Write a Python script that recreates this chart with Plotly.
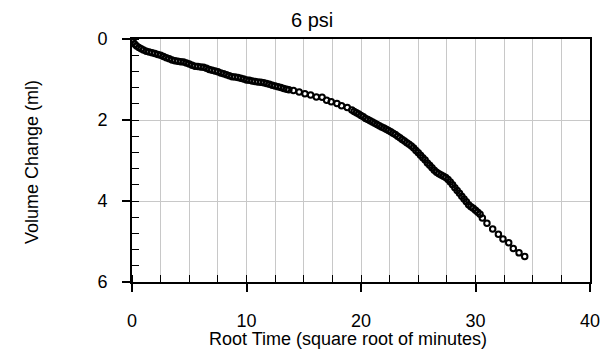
import plotly.graph_objects as go

# Root time (sqrt of minutes) and volume change (ml)
root_time = [
    0, 0.1, 0.25, 0.4, 0.6, 0.8, 1.0, 1.25, 1.5, 1.75, 2.0, 2.25, 2.5, 2.75,
    3.0, 3.25, 3.5, 3.75, 4.0, 4.25, 4.5, 4.75, 5.0, 5.25, 5.5, 5.75, 6.0,
    6.25, 6.5, 6.75, 7.0, 7.25, 7.5, 7.75, 8.0, 8.25, 8.5, 8.75, 9.0, 9.25,
    9.5, 9.75, 10.0, 10.25, 10.5, 10.75, 11.0, 11.25, 11.5, 11.75, 12.0,
    12.25, 12.5, 12.75, 13.0, 13.25, 13.5, 13.7,
    14.1, 14.6, 15.1, 15.6, 16.1, 16.6, 17.0, 17.4, 17.9, 18.3, 18.8, 19.2,
    19.4, 19.6, 19.8, 20.0, 20.2, 20.4, 20.6, 20.8, 21.0, 21.2, 21.4, 21.6,
    21.8, 22.0, 22.2, 22.4, 22.6, 22.8, 23.0, 23.2, 23.4, 23.6, 23.8, 24.0,
    24.2, 24.4, 24.6, 24.8, 25.0, 25.2, 25.4, 25.6, 25.8, 26.0, 26.2, 26.4,
    26.6, 26.8, 27.0, 27.2, 27.4, 27.6, 27.8, 28.0, 28.2, 28.4, 28.6, 28.8,
    29.0, 29.2, 29.4, 29.6, 29.8, 30.0, 30.2, 30.4, 30.6,
    31.0, 31.5, 32.0, 32.4, 32.9, 33.3, 33.8, 34.3,
]
volume_change = [
    0, 0.07, 0.13, 0.17, 0.21, 0.24, 0.27, 0.30, 0.32, 0.34, 0.36, 0.38, 0.40,
    0.43, 0.46, 0.49, 0.52, 0.54, 0.55, 0.56, 0.57, 0.59, 0.62, 0.65, 0.67,
    0.68, 0.69, 0.70, 0.72, 0.75, 0.77, 0.79, 0.81, 0.84, 0.86, 0.88, 0.91,
    0.93, 0.94, 0.95, 0.97, 0.99, 1.01, 1.02, 1.04, 1.05, 1.06, 1.07, 1.08,
    1.10, 1.12, 1.14, 1.16, 1.18, 1.20, 1.22, 1.24, 1.25,
    1.27, 1.31, 1.35, 1.38, 1.43, 1.44, 1.51, 1.55, 1.59, 1.65, 1.69, 1.75,
    1.79, 1.82, 1.85, 1.89, 1.92, 1.96, 1.99, 2.02, 2.05, 2.08, 2.11, 2.14,
    2.17, 2.20, 2.23, 2.26, 2.29, 2.33, 2.36, 2.40, 2.44, 2.48, 2.52, 2.56,
    2.60, 2.64, 2.69, 2.75, 2.81, 2.87, 2.93, 2.99, 3.06, 3.12, 3.18, 3.24,
    3.29, 3.33, 3.36, 3.39, 3.42, 3.47, 3.53, 3.60, 3.67, 3.74, 3.81, 3.88,
    3.95, 4.02, 4.09, 4.14, 4.18, 4.23, 4.28, 4.33, 4.42,
    4.55, 4.69, 4.82, 4.94, 5.03, 5.17, 5.28, 5.37,
]

x_ticks = [0, 10, 20, 30, 40]
y_ticks = [0, 2, 4, 6]

fig = go.Figure()
fig.add_trace(go.Scatter(
    x=root_time, y=volume_change, mode='markers',
    marker=dict(symbol='circle-open', size=5.5, color='black',
                line=dict(width=2, color='black')),
))

grid = '#c8c8c8'
# page has an 8px body margin, so margins are trimmed to keep the plot in place
fig.update_layout(
    width=612, height=360,
    margin=dict(l=124, r=30, t=31, b=86),
    plot_bgcolor='white', paper_bgcolor='white',
    font=dict(family='Liberation Sans, Arial, sans-serif', size=18, color='black'),
    showlegend=False,
    xaxis=dict(
        range=[0, 40], tickvals=x_ticks, showline=True, linecolor='black',
        linewidth=2, mirror=True, ticks='outside', ticklen=8, tickwidth=1.5,
        tickcolor='black', showgrid=True, gridcolor=grid, gridwidth=1,
        zeroline=False, ticklabelstandoff=13,
        minor=dict(dtick=2.5, tick0=0, ticks='inside', ticklen=7,
                   tickcolor='black', tickwidth=1, showgrid=True,
                   gridcolor=grid, gridwidth=1),
    ),
    yaxis=dict(
        range=[6, 0], tickvals=y_ticks, showline=True, linecolor='black',
        linewidth=2, mirror=True, ticks='outside', ticklen=8, tickwidth=1.5,
        tickcolor='black', showgrid=True, gridcolor=grid, gridwidth=1,
        zeroline=False, ticklabelstandoff=11,
        minor=dict(dtick=0.4, tick0=0, ticks='inside', ticklen=7,
                   tickcolor='black', tickwidth=1, showgrid=False),
    ),
    annotations=[
        dict(text='6 psi', xref='paper', yref='paper', x=0.393, y=1.078,
             xanchor='center', yanchor='middle', showarrow=False,
             font=dict(size=20)),
        dict(text='Root Time (square root of minutes)', xref='paper',
             yref='paper', x=0.472, y=-0.235, xanchor='center',
             yanchor='middle', showarrow=False, font=dict(size=18)),
        dict(text='Volume Change (ml)', xref='paper', yref='paper',
             x=-0.218, y=0.494, xanchor='center', yanchor='middle',
             textangle=-90, showarrow=False, font=dict(size=18)),
    ],
)

fig.write_html("out.html")
